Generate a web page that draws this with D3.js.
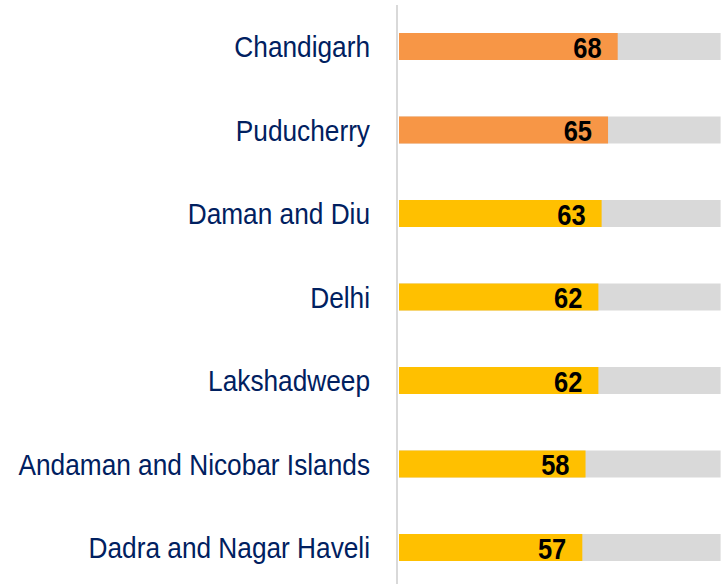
<!DOCTYPE html>
<html>
<head>
<meta charset="utf-8">
<script src="https://cdn.jsdelivr.net/npm/d3@7"></script>
<style>
  body { margin: 0; background: #fff; }
  .cat-label { font-family: Arial, "Liberation Sans", sans-serif; fill: #002060; }
  .val-label { font-family: "Liberation Sans Narrow", "Arial Narrow", Arial, "Liberation Sans", sans-serif; font-weight: bold; fill: #000; }
</style>
</head>
<body>
<div id="chart"></div>
<script>
// Data
const states = ['Chandigarh', 'Puducherry', 'Daman and Diu', 'Delhi', 'Lakshadweep',
  'Andaman and Nicobar Islands', 'Dadra and Nagar Haveli'];
const scores = [68, 65, 63, 62, 62, 58, 57];
const tiers = ['top', 'top', 'mid', 'mid', 'mid', 'mid', 'mid'];
const maxScore = 100;

const config = {
  width: 721,
  height: 584,
  axisX: 397,
  barLeft: 399,
  barHeight: 27
};

const tierColor = d3.scaleOrdinal()
    .domain(['top', 'mid'])
    .range(['#f79646', '#ffc000']);

const rows = states.map((s, i) => ({ state: s, score: scores[i], tier: tiers[i] }));

const svg = d3.select('#chart').append('svg')
    .attr('width', config.width)
    .attr('height', config.height);

// Scales
const xScale = d3.scaleLinear()
    .domain([0, maxScore])
    .range([config.barLeft, config.barLeft + 321.6]);

const yScale = d3.scalePoint()
    .domain(states)
    .range([4.75, 589.25])
    .padding(0.5);

// Background (remaining to 100) bars
svg.selectAll('.bg-bar')
    .data(rows)
  .join('rect')
    .attr('class', 'bg-bar')
    .attr('x', xScale(0))
    .attr('y', d => yScale(d.state) - config.barHeight / 2)
    .attr('width', xScale(maxScore) - xScale(0))
    .attr('height', config.barHeight)
    .attr('fill', '#d9d9d9');

// Value bars
svg.selectAll('.bar')
    .data(rows)
  .join('rect')
    .attr('class', 'bar')
    .attr('x', xScale(0))
    .attr('y', d => yScale(d.state) - config.barHeight / 2)
    .attr('width', d => xScale(d.score) - xScale(0))
    .attr('height', config.barHeight)
    .attr('fill', d => tierColor(d.tier));

// Vertical axis line
svg.append('line')
    .attr('x1', config.axisX)
    .attr('x2', config.axisX)
    .attr('y1', 5)
    .attr('y2', config.height)
    .attr('stroke', '#d9d9d9')
    .attr('stroke-width', 2);

// Category labels (slightly condensed like the original)
svg.selectAll('.cat-label')
    .data(rows)
  .join('text')
    .attr('class', 'cat-label')
    .attr('text-anchor', 'end')
    .attr('font-size', 30)
    .attr('transform', d => `translate(370,${yScale(d.state) + 10.5}) scale(0.875,1)`)
    .text(d => d.state);

// Value labels inside bar ends
svg.selectAll('.val-label')
    .data(rows)
  .join('text')
    .attr('class', 'val-label')
    .attr('text-anchor', 'end')
    .attr('font-size', 30)
    .attr('transform', d => `translate(${xScale(d.score) - 16},${yScale(d.state) + 11}) scale(0.85,1)`)
    .text(d => d.score);
</script>
</body>
</html>
